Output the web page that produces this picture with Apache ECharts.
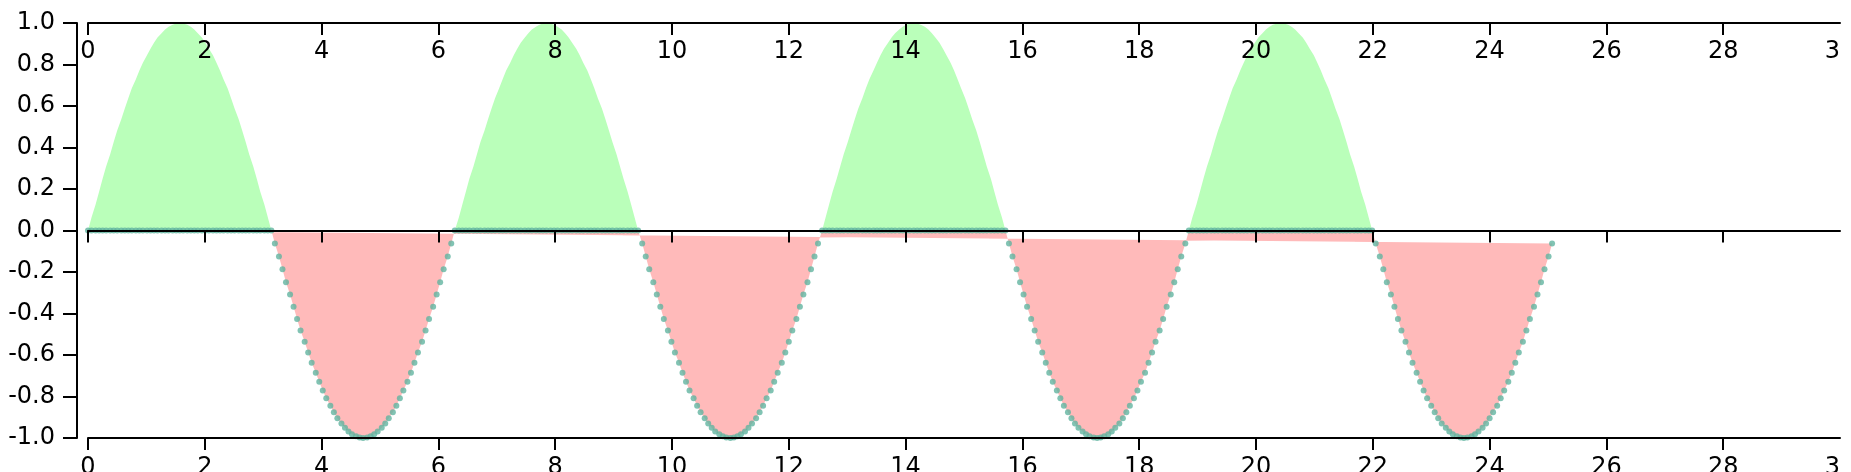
<!DOCTYPE html>
<html>
<head>
<meta charset="utf-8">
<script src="https://cdn.jsdelivr.net/npm/echarts@6/dist/echarts.min.js"></script>
<style>
html,body{margin:0;padding:0;background:#fff;}
#main{width:1841px;height:472px;overflow:hidden;}
</style>
</head>
<body>
<div id="main"></div>
<script>
// x positions of the samples
const xValues = [
0,0.06,0.13,0.19,0.25,0.31,0.38,0.44,0.50,0.57,
0.63,0.69,0.75,0.82,0.88,0.94,1.01,1.07,1.13,1.19,
1.26,1.32,1.38,1.45,1.51,1.57,1.63,1.70,1.76,1.82,
1.88,1.95,2.01,2.07,2.14,2.20,2.26,2.32,2.39,2.45,
2.51,2.58,2.64,2.70,2.76,2.83,2.89,2.95,3.02,3.08,
3.14,3.20,3.27,3.33,3.39,3.46,3.52,3.58,3.64,3.71,
3.77,3.83,3.90,3.96,4.02,4.08,4.15,4.21,4.27,4.34,
4.40,4.46,4.52,4.59,4.65,4.71,4.78,4.84,4.90,4.96,
5.03,5.09,5.15,5.22,5.28,5.34,5.40,5.47,5.53,5.59,
5.65,5.72,5.78,5.84,5.91,5.97,6.03,6.09,6.16,6.22,
6.28,6.35,6.41,6.47,6.53,6.60,6.66,6.72,6.79,6.85,
6.91,6.97,7.04,7.10,7.16,7.23,7.29,7.35,7.41,7.48,
7.54,7.60,7.67,7.73,7.79,7.85,7.92,7.98,8.04,8.11,
8.17,8.23,8.29,8.36,8.42,8.48,8.55,8.61,8.67,8.73,
8.80,8.86,8.92,8.98,9.05,9.11,9.17,9.24,9.30,9.36,
9.42,9.49,9.55,9.61,9.68,9.74,9.80,9.86,9.93,9.99,
10.05,10.12,10.18,10.24,10.30,10.37,10.43,10.49,10.56,10.62,
10.68,10.74,10.81,10.87,10.93,11.00,11.06,11.12,11.18,11.25,
11.31,11.37,11.44,11.50,11.56,11.62,11.69,11.75,11.81,11.88,
11.94,12.00,12.06,12.13,12.19,12.25,12.32,12.38,12.44,12.50,
12.57,12.63,12.69,12.75,12.82,12.88,12.94,13.01,13.07,13.13,
13.19,13.26,13.32,13.38,13.45,13.51,13.57,13.63,13.70,13.76,
13.82,13.89,13.95,14.01,14.07,14.14,14.20,14.26,14.33,14.39,
14.45,14.51,14.58,14.64,14.70,14.77,14.83,14.89,14.95,15.02,
15.08,15.14,15.21,15.27,15.33,15.39,15.46,15.52,15.58,15.65,
15.71,15.77,15.83,15.90,15.96,16.02,16.08,16.15,16.21,16.27,
16.34,16.40,16.46,16.52,16.59,16.65,16.71,16.78,16.84,16.90,
16.96,17.03,17.09,17.15,17.22,17.28,17.34,17.40,17.47,17.53,
17.59,17.66,17.72,17.78,17.84,17.91,17.97,18.03,18.10,18.16,
18.22,18.28,18.35,18.41,18.47,18.54,18.60,18.66,18.72,18.79,
18.85,18.91,18.98,19.04,19.10,19.16,19.23,19.29,19.35,19.42,
19.48,19.54,19.60,19.67,19.73,19.79,19.85,19.92,19.98,20.04,
20.11,20.17,20.23,20.29,20.36,20.42,20.48,20.55,20.61,20.67,
20.73,20.80,20.86,20.92,20.99,21.05,21.11,21.17,21.24,21.30,
21.36,21.43,21.49,21.55,21.61,21.68,21.74,21.80,21.87,21.93,
21.99,22.05,22.12,22.18,22.24,22.31,22.37,22.43,22.49,22.56,
22.62,22.68,22.75,22.81,22.87,22.93,23.00,23.06,23.12,23.18,
23.25,23.31,23.37,23.44,23.50,23.56,23.62,23.69,23.75,23.81,
23.88,23.94,24.00,24.06,24.13,24.19,24.25,24.32,24.38,24.44,
24.50,24.57,24.63,24.69,24.76,24.82,24.88,24.94,25.01,25.07
];

// wave values at those positions
const yValues = [
0,0.063,0.125,0.187,0.249,0.309,0.368,0.426,0.482,0.536,0.588,0.637,0.685,0.729,0.771,0.809,0.844,0.876,0.905,0.930,0.951,0.969,0.982,0.992,0.998,1,0.998,0.992,0.982,0.969,0.951,0.930,0.905,0.876,0.844,0.809,0.771,0.729,0.685,0.637,0.588,0.536,0.482,0.426,0.368,0.309,0.249,0.187,0.125,0.063,0,-0.063,-0.125,-0.187,-0.249,-0.309,-0.368,-0.426,-0.482,-0.536,-0.588,-0.637,-0.685,-0.729,-0.771,-0.809,-0.844,-0.876,-0.905,-0.930,-0.951,-0.969,-0.982,-0.992,-0.998,-1,-0.998,-0.992,-0.982,-0.969,-0.951,-0.930,-0.905,-0.876,-0.844,-0.809,-0.771,-0.729,-0.685,-0.637,-0.588,-0.536,-0.482,-0.426,-0.368,-0.309,-0.249,-0.187,-0.125,-0.063,
0,0.063,0.125,0.187,0.249,0.309,0.368,0.426,0.482,0.536,0.588,0.637,0.685,0.729,0.771,0.809,0.844,0.876,0.905,0.930,0.951,0.969,0.982,0.992,0.998,1,0.998,0.992,0.982,0.969,0.951,0.930,0.905,0.876,0.844,0.809,0.771,0.729,0.685,0.637,0.588,0.536,0.482,0.426,0.368,0.309,0.249,0.187,0.125,0.063,0,-0.063,-0.125,-0.187,-0.249,-0.309,-0.368,-0.426,-0.482,-0.536,-0.588,-0.637,-0.685,-0.729,-0.771,-0.809,-0.844,-0.876,-0.905,-0.930,-0.951,-0.969,-0.982,-0.992,-0.998,-1,-0.998,-0.992,-0.982,-0.969,-0.951,-0.930,-0.905,-0.876,-0.844,-0.809,-0.771,-0.729,-0.685,-0.637,-0.588,-0.536,-0.482,-0.426,-0.368,-0.309,-0.249,-0.187,-0.125,-0.063,
0,0.063,0.125,0.187,0.249,0.309,0.368,0.426,0.482,0.536,0.588,0.637,0.685,0.729,0.771,0.809,0.844,0.876,0.905,0.930,0.951,0.969,0.982,0.992,0.998,1,0.998,0.992,0.982,0.969,0.951,0.930,0.905,0.876,0.844,0.809,0.771,0.729,0.685,0.637,0.588,0.536,0.482,0.426,0.368,0.309,0.249,0.187,0.125,0.063,0,-0.063,-0.125,-0.187,-0.249,-0.309,-0.368,-0.426,-0.482,-0.536,-0.588,-0.637,-0.685,-0.729,-0.771,-0.809,-0.844,-0.876,-0.905,-0.930,-0.951,-0.969,-0.982,-0.992,-0.998,-1,-0.998,-0.992,-0.982,-0.969,-0.951,-0.930,-0.905,-0.876,-0.844,-0.809,-0.771,-0.729,-0.685,-0.637,-0.588,-0.536,-0.482,-0.426,-0.368,-0.309,-0.249,-0.187,-0.125,-0.063,
0,0.063,0.125,0.187,0.249,0.309,0.368,0.426,0.482,0.536,0.588,0.637,0.685,0.729,0.771,0.809,0.844,0.876,0.905,0.930,0.951,0.969,0.982,0.992,0.998,1,0.998,0.992,0.982,0.969,0.951,0.930,0.905,0.876,0.844,0.809,0.771,0.729,0.685,0.637,0.588,0.536,0.482,0.426,0.368,0.309,0.249,0.187,0.125,0.063,0,-0.063,-0.125,-0.187,-0.249,-0.309,-0.368,-0.426,-0.482,-0.536,-0.588,-0.637,-0.685,-0.729,-0.771,-0.809,-0.844,-0.876,-0.905,-0.930,-0.951,-0.969,-0.982,-0.992,-0.998,-1,-0.998,-0.992,-0.982,-0.969,-0.951,-0.930,-0.905,-0.876,-0.844,-0.809,-0.771,-0.729,-0.685,-0.637,-0.588,-0.536,-0.482,-0.426,-0.368,-0.309,-0.249,-0.187,-0.125,-0.063
];

const xTickValues = [0,2,4,6,8,10,12,14,16,18,20,22,24,26,28];
const xLabelValues = [0,2,4,6,8,10,12,14,16,18,20,22,24,26,28,30];

const FONT = 'DejaVu Sans';
const BLACK = '#000';
const GREEN = '#baffba';
const RED = '#ffbaba';
const TEAL = '#62b4a0';

const lowerPts = xValues.map((x, i) => [x, Math.min(yValues[i], 0)]);
const upperPts = xValues.map((x, i) => [x, Math.max(yValues[i], 0)]);

function polygonSeries(points, color, z) {
  return {
    type: 'custom',
    xAxisIndex: 1,
    yAxisIndex: 0,
    z: z,
    silent: true,
    clip: false,
    data: [[0, 0]],
    encode: { x: 0, y: 1 },
    renderItem: function (params, api) {
      return {
        type: 'polygon',
        shape: { points: points.map(p => api.coord(p)) },
        style: { fill: color, stroke: null }
      };
    }
  };
}

function makeXAxis(position, onZero, inside, margin, showLabel) {
  return {
    type: 'value',
    gridIndex: 0,
    position: position,
    min: 0,
    max: 30,
    z: 10,
    axisLine: { show: true, onZero: onZero, lineStyle: { color: BLACK, width: 2 } },
    axisTick: { show: true, inside: inside, length: 12, customValues: xTickValues, lineStyle: { color: BLACK, width: 2 } },
    axisLabel: { show: showLabel, inside: inside, margin: margin, customValues: xLabelValues, color: BLACK, fontFamily: FONT, fontSize: 24, hideOverlap: false },
    splitLine: { show: false }
  };
}

const chart = echarts.init(document.getElementById('main'), null, { renderer: 'canvas' });
chart.setOption({
  animation: false,
  backgroundColor: '#fff',
  grid: { left: 88, top: 23, right: 1, bottom: 34, containLabel: false, outerBoundsMode: 'none' },
  xAxis: [
    makeXAxis('top', false, true, 17, true),
    makeXAxis('bottom', true, false, 18, true),
    makeXAxis('bottom', false, false, 23, false)
  ],
  yAxis: [{
    type: 'value',
    min: -1,
    max: 1,
    interval: 0.2,
    offset: 11,
    z: 10,
    axisLine: { show: true, onZero: false, lineStyle: { color: BLACK, width: 2 } },
    axisTick: { show: true, length: 14, lineStyle: { color: BLACK, width: 2 } },
    axisLabel: { margin: 22, color: BLACK, fontFamily: FONT, fontSize: 24, formatter: v => v.toFixed(1) },
    splitLine: { show: false }
  }],
  series: [
    polygonSeries(lowerPts, RED, 1),
    polygonSeries(upperPts, GREEN, 2),
    {
      type: 'scatter',
      xAxisIndex: 1,
      yAxisIndex: 0,
      z: 3,
      silent: true,
      symbol: 'circle',
      symbolSize: 6,
      itemStyle: { color: TEAL },
      data: lowerPts
    }
  ]
});
</script>
</body>
</html>
